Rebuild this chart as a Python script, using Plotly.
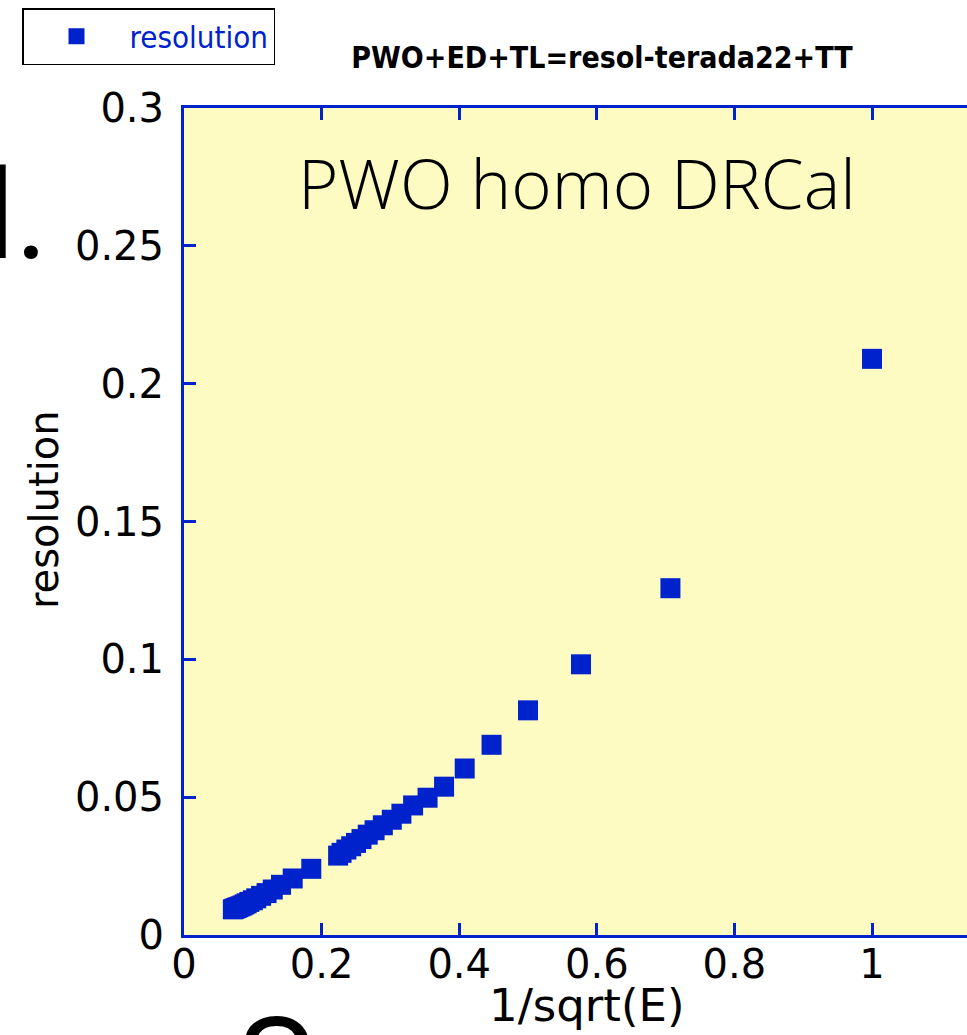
import plotly.graph_objects as go

# 1/sqrt(E) values
x_vals = [1.000, 0.707, 0.577, 0.500, 0.447, 0.408, 0.378, 0.354, 0.333, 0.316,
          0.302, 0.289, 0.277, 0.267, 0.258, 0.250, 0.243, 0.236, 0.229, 0.224,
          0.185, 0.158, 0.141, 0.129, 0.120, 0.112, 0.105, 0.100, 0.095, 0.091,
          0.088, 0.085, 0.082, 0.079, 0.077, 0.075, 0.073, 0.071]
# resolution values
res_vals = [0.209, 0.1258, 0.0982, 0.0815, 0.0690, 0.0604, 0.0538, 0.0498, 0.0470, 0.0440,
            0.0418, 0.0398, 0.0380, 0.0364, 0.0348, 0.0334, 0.0322, 0.0310, 0.0298, 0.0288,
            0.0240, 0.0205, 0.0182, 0.0165, 0.0152, 0.0142, 0.0133, 0.0126, 0.0120, 0.0115,
            0.0111, 0.0107, 0.0104, 0.0101, 0.0099, 0.0097, 0.0095, 0.0093]

x_ticks = [0, 0.2, 0.4, 0.6, 0.8, 1]
x_tick_text = ["0", "0.2", "0.4", "0.6", "0.8", "1"]
y_ticks = [0, 0.05, 0.1, 0.15, 0.2, 0.25, 0.3]
y_tick_text = ["0", "0.05", "0.1", "0.15", "0.2", "0.25", "0.3"]

BLUE = "#0022cc"
BG = "#fdfbc2"

W, H = 967, 1035
L, R, T, B = 184, 0, 108, 100
PW, PH = W - L - R, H - T - B


def px(xp):
    return (xp - L) / PW


def py(yp):
    return (H - B - yp) / PH


fig = go.Figure()
fig.add_trace(go.Scatter(
    x=x_vals, y=res_vals, mode="markers", name="resolution",
    marker=dict(symbol="square", size=20, color=BLUE, line=dict(width=0)),
    cliponaxis=False,
))

axis_common = dict(
    showline=True, linecolor=BLUE, linewidth=3,
    ticks="inside", ticklen=12, tickwidth=3, tickcolor=BLUE,
    showgrid=False, zeroline=False, automargin=False,
    tickfont=dict(family="DejaVu Sans", size=40, color="black"),
)

NARROW = "DejaVu Sans Condensed, Liberation Sans Narrow, sans-serif"

fig.update_layout(
    width=W, height=H,
    margin=dict(l=L, r=R, t=T, b=B, pad=0, autoexpand=False),
    paper_bgcolor="white", plot_bgcolor=BG,
    xaxis=dict(range=[0, PW / 688.0], tickvals=x_ticks, ticktext=x_tick_text,
               mirror="allticks", ticklabelstandoff=-8, **axis_common),
    yaxis=dict(range=[0, 0.3], tickvals=y_ticks, ticktext=y_tick_text,
               mirror=False, ticklabelstandoff=9, **axis_common),
    showlegend=True,
    legend=dict(
        xref="container", yref="container",
        x=22 / W, y=1 - 8 / H, xanchor="left", yanchor="top",
        bordercolor="black", borderwidth=1.5, bgcolor="white",
        font=dict(family=NARROW, size=31, color=BLUE),
        itemwidth=96,
    ),
    title=dict(
        text="<b>PWO+ED+TL=resol-terada22+TT</b>",
        xref="container", yref="container",
        x=602 / W, y=1 - 57 / H, xanchor="center", yanchor="middle",
        font=dict(family=NARROW, size=30, color="black"),
    ),
)

annotations = [
    dict(text="PWO homo DRCal", x=px(577), y=py(182), xref="paper", yref="paper",
         xanchor="center", yanchor="middle", showarrow=False,
         font=dict(family="Open Sans", size=69, color="black", weight=300)),
    dict(text="1/sqrt(E)", x=px(587), y=py(1006), xref="paper", yref="paper",
         xanchor="center", yanchor="middle", showarrow=False,
         font=dict(family="DejaVu Sans", size=45, color="black")),
    dict(text="resolution", x=px(44), y=py(510), xref="paper", yref="paper",
         xanchor="center", yanchor="middle", showarrow=False, textangle=-90,
         font=dict(family="DejaVu Sans", size=40, color="black")),
    dict(text="l.", x=px(50), y=py(290), xref="paper", yref="paper",
         xanchor="right", yanchor="bottom", showarrow=False,
         font=dict(family="Roboto", size=124, color="black")),
    dict(text="S", x=px(275), y=py(987), xref="paper", yref="paper",
         xanchor="center", yanchor="top", showarrow=False,
         font=dict(family="Roboto", size=130, color="black")),
]
fig.update_layout(annotations=annotations)

fig.write_html("out.html")
